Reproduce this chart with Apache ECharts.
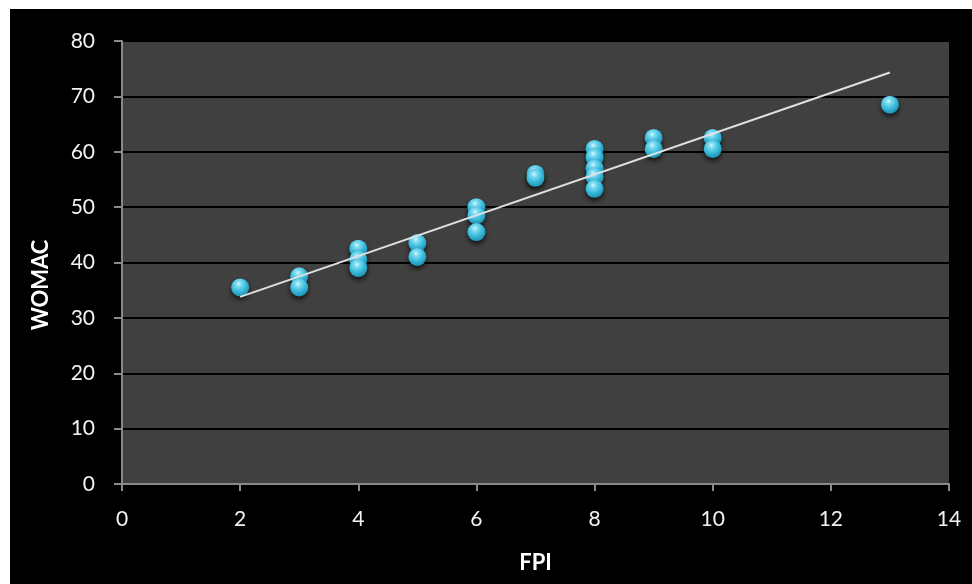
<!DOCTYPE html>
<html>
<head>
<meta charset="utf-8">
<script src="https://cdn.jsdelivr.net/npm/echarts@6/dist/echarts.min.js"></script>
<style>
html,body{margin:0;padding:0;background:#fff;width:972px;height:584px;overflow:hidden;}
#bg{position:absolute;left:10px;top:9px;right:0;bottom:0;background:#000;}
#chart{position:absolute;left:0;top:0;width:972px;height:584px;}
</style>
</head>
<body>
<div id="bg"></div>
<div id="chart"></div>
<script>
var fpi = [2, 3, 3, 4, 4, 4, 5, 5, 6, 6, 6, 7, 7, 8, 8, 8, 8, 8, 9, 9, 10, 10, 13];
var womac = [35.5, 37.5, 35.5, 42.5, 40.5, 39, 43.5, 41, 50, 48.5, 45.5, 56, 55.3, 60.5, 59, 57, 55.5, 53.3, 62.5, 60.5, 62.5, 60.5, 68.5];
var trendX = [2, 13];
var trendY = [33.8, 74.3];
var xTicks = [0, 2, 4, 6, 8, 10, 12, 14];
var yTicks = [0, 10, 20, 30, 40, 50, 60, 70, 80];

var points = fpi.map(function (x, i) { return [x, womac[i]]; });
var trend = trendX.map(function (x, i) { return [x, trendY[i]]; });
var labelFont = 'Lato, "Open Sans", sans-serif';

var chart = echarts.init(document.getElementById('chart'), null, {renderer: 'canvas'});
chart.setOption({
  backgroundColor: 'transparent',
  animation: false,
  grid: {left: 122, top: 41, right: 23, bottom: 100, show: true, backgroundColor: '#404040', borderWidth: 0},
  xAxis: {
    type: 'value', min: xTicks[0], max: xTicks[xTicks.length - 1], interval: 2,
    name: 'FPI', nameLocation: 'middle', nameGap: 68,
    nameTextStyle: {color: '#ffffff', fontFamily: labelFont, fontWeight: 'bold', fontSize: 22},
    axisLine: {show: true, onZero: false, lineStyle: {color: '#8a8a8a', width: 2}},
    axisTick: {show: true, length: 7, lineStyle: {color: '#8a8a8a', width: 2}},
    axisLabel: {color: '#f2f2f2', fontFamily: labelFont, fontSize: 21, margin: 25},
    splitLine: {show: false}
  },
  yAxis: {
    type: 'value', min: yTicks[0], max: yTicks[yTicks.length - 1], interval: 10,
    axisLine: {show: true, onZero: false, lineStyle: {color: '#8a8a8a', width: 2}},
    axisTick: {show: true, length: 8, lineStyle: {color: '#8a8a8a', width: 2}},
    axisLabel: {color: '#f2f2f2', fontFamily: labelFont, fontSize: 21, margin: 27},
    splitLine: {show: true, lineStyle: {color: '#000000', width: 2}}
  },
  graphic: [{
    type: 'text',
    rotation: Math.PI / 2,
    x: 41, y: 285,
    style: {text: 'WOMAC', fill: '#ffffff', font: 'bold 22px ' + labelFont, textAlign: 'center', textVerticalAlign: 'middle'}
  }],
  series: [{
    type: 'scatter',
    data: points,
    symbol: 'circle',
    symbolSize: 18,
    z: 2,
    itemStyle: {
      opacity: 1,
      color: {
        type: 'radial', x: 0.42, y: 0.3, r: 0.75,
        colorStops: [
          {offset: 0, color: '#d8f7ff'},
          {offset: 0.2, color: '#7edcf2'},
          {offset: 0.55, color: '#3bbcdc'},
          {offset: 1, color: '#1a8aaa'}
        ]
      },
      shadowBlur: 5, shadowColor: 'rgba(0,0,0,0.7)', shadowOffsetY: 3
    }
  }, {
    type: 'line',
    data: trend,
    symbol: 'none',
    z: 3,
    lineStyle: {color: '#e0e0e0', width: 2}
  }]
});
</script>
</body>
</html>
